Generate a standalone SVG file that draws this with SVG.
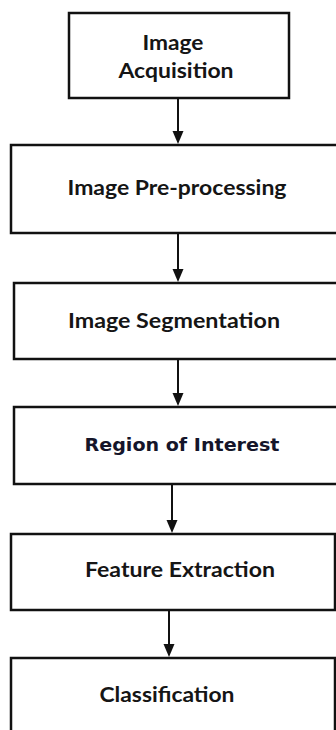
<svg xmlns="http://www.w3.org/2000/svg" width="336" height="730" viewBox="0 0 336 730">
<style>
.box{fill:#fff;stroke:#111;stroke-width:2.5}
.t{font-family:Lato,"Open Sans","Liberation Sans",sans-serif;font-weight:bold;font-size:21px;fill:#151515;text-anchor:middle}
.v{font-family:"DejaVu Sans",Verdana,sans-serif;font-weight:bold;font-size:18px;fill:#15152a;text-anchor:middle}
.c{stroke:#111;stroke-width:2;fill:none}
</style>
<rect width="336" height="730" fill="#fff"/>
<g id="connectors">
<path class="c" d="M178,99 V132"/><path d="M172.5,131 H183.5 L178,144 Z" fill="#111"/>
<path class="c" d="M178,234 V270"/><path d="M172.5,269 H183.5 L178,282 Z" fill="#111"/>
<path class="c" d="M178,360 V394"/><path d="M172.5,393 H183.5 L178,406 Z" fill="#111"/>
<path class="c" d="M172,485 V521"/><path d="M166.5,520 H177.5 L172,533 Z" fill="#111"/>
<path class="c" d="M169,611 V645"/><path d="M163.5,644 H174.5 L169,657 Z" fill="#111"/>
</g>
<g id="n1">
<rect class="box" x="69" y="13" width="220" height="85"/>
<text class="t" x="173" y="50" textLength="61" lengthAdjust="spacingAndGlyphs">Image</text>
<text class="t" x="176" y="78" textLength="115" lengthAdjust="spacingAndGlyphs">Acquisition</text>
</g>
<g id="n2">
<rect class="box" x="11" y="145" width="340" height="88"/>
<text class="t" x="177" y="195" textLength="219" lengthAdjust="spacingAndGlyphs">Image Pre-processing</text>
</g>
<g id="n3">
<rect class="box" x="14" y="283" width="340" height="76"/>
<text class="t" x="174" y="328" textLength="212" lengthAdjust="spacingAndGlyphs">Image Segmentation</text>
</g>
<g id="n4">
<rect class="box" x="14" y="407" width="340" height="77"/>
<text class="v" x="182" y="451" textLength="195" lengthAdjust="spacingAndGlyphs">Region of Interest</text>
</g>
<g id="n5">
<rect class="box" x="11" y="534" width="324" height="76"/>
<text class="t" x="180" y="577" textLength="190" lengthAdjust="spacingAndGlyphs">Feature Extraction</text>
</g>
<g id="n6">
<rect class="box" x="11" y="658" width="324" height="90"/>
<text class="t" x="167" y="702" textLength="135" lengthAdjust="spacingAndGlyphs">Classification</text>
</g>
</svg>
